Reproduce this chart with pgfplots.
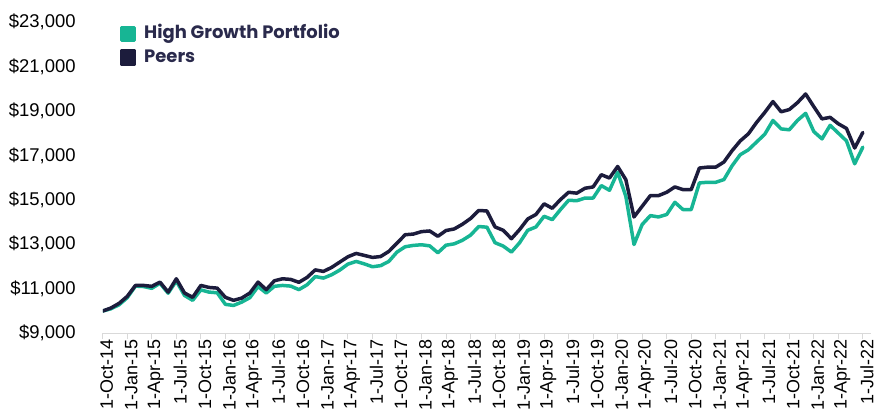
\documentclass[border=0pt]{standalone}
\usepackage{pgfplots}
\pgfplotsset{compat=1.18}
\usepackage{pgfplotstable}
\usepackage{fontspec}
\setmainfont{Liberation Sans}
\newfontfamily\legfont{Poppins}
\definecolor{hgp}{HTML}{17B594}
\definecolor{peers}{HTML}{1C1C3C}
\definecolor{legtext}{HTML}{2A2A4C}
\definecolor{axgray}{HTML}{D9D9D9}

\pgfplotstableread{
i hgp peers
0 10000 10000
1 10100 10135
2 10280 10345
3 10600 10660
4 11120 11150
5 11100 11150
6 11020 11110
7 11250 11300
8 10800 10850
9 11350 11450
10 10700 10810
11 10480 10615
12 10950 11150
13 10850 11060
14 10820 11030
15 10300 10615
16 10250 10480
17 10400 10580
18 10600 10810
19 11100 11300
20 10810 10960
21 11110 11360
22 11150 11450
23 11120 11420
24 10960 11290
25 11180 11510
26 11550 11850
27 11480 11780
28 11630 11960
29 11840 12200
30 12110 12440
31 12230 12590
32 12120 12500
33 11990 12410
34 12040 12450
35 12230 12680
36 12650 13050
37 12890 13430
38 12950 13460
39 12980 13570
40 12930 13600
41 12620 13360
42 12960 13620
43 13020 13690
44 13180 13900
45 13410 14160
46 13800 14520
47 13770 14500
48 13070 13780
49 12920 13630
50 12650 13250
51 13070 13660
52 13630 14140
53 13780 14340
54 14260 14820
55 14110 14620
56 14560 15010
57 14980 15340
58 14960 15300
59 15080 15520
60 15080 15580
61 15640 16130
62 15430 15980
63 16240 16500
64 15160 15910
65 12990 14230
66 13890 14710
67 14290 15190
68 14230 15190
69 14340 15340
70 14890 15580
71 14560 15460
72 14560 15460
73 15760 16430
74 15790 16470
75 15790 16470
76 15910 16700
77 16530 17210
78 17030 17650
79 17250 17970
80 17600 18480
81 17950 18930
82 18570 19420
83 18190 18960
84 18150 19060
85 18570 19370
86 18890 19760
87 18070 19190
88 17740 18640
89 18350 18710
90 18000 18420
91 17650 18210
92 16620 17330
93 17370 18030
}\datatable

\begin{document}
\begin{tikzpicture}
\begin{axis}[
  name=main,
  scale only axis,
  width=770pt, height=312pt,
  at={(0,0)}, anchor=south west,
  xmin=0, xmax=94,
  ymin=9000, ymax=23000,
  scaled y ticks=false,
  scaled x ticks=false,
  separate axis lines,
  axis x line*=bottom,
  axis y line*=left,
  x axis line style={draw=axgray, line width=1.2pt, -},
  y axis line style={draw=none},
  xtick={0,3,...,93},
  xticklabels={1-Oct-14,1-Jan-15,1-Apr-15,1-Jul-15,1-Oct-15,1-Jan-16,1-Apr-16,1-Jul-16,1-Oct-16,1-Jan-17,1-Apr-17,1-Jul-17,1-Oct-17,1-Jan-18,1-Apr-18,1-Jul-18,1-Oct-18,1-Jan-19,1-Apr-19,1-Jul-19,1-Oct-19,1-Jan-20,1-Apr-20,1-Jul-20,1-Oct-20,1-Jan-21,1-Apr-21,1-Jul-21,1-Oct-21,1-Jan-22,1-Apr-22,1-Jul-22},
  xticklabel style={rotate=90, anchor=east, inner sep=0pt, yshift=-4pt, font=\fontsize{18}{20}\selectfont, text=black},
  ytick={9000,11000,...,23000},
  yticklabels={{\$9,000},{\$11,000},{\$13,000},{\$15,000},{\$17,000},{\$19,000},{\$21,000},{\$23,000}},
  yticklabel style={anchor=east, inner sep=0pt, xshift=-21pt, font=\fontsize{18.5}{20}\selectfont, text=black},
  tick align=outside,
  major tick length=6pt,
  xtick style={draw=axgray, line width=1pt},
  ytick style={draw=none},
  legend cell align=left,
  legend image code/.code={\fill (0pt,-6.5pt) rectangle (13pt,6.5pt);},
  legend style={at={(axis description cs:0,1)}, anchor=north west, xshift=17pt, yshift=-4pt,
    draw=none, fill=none, inner sep=0pt, outer sep=0pt, row sep=7pt, column sep=8pt,
    nodes={inner sep=0pt, text height=12pt, text depth=3pt},
    font=\legfont\bfseries\fontsize{18}{20}\selectfont, text=legtext},
]
\addplot[color=hgp, line width=3.5pt, line join=round, line cap=round] table[x=i, y=hgp] {\datatable};
\addlegendentry{High Growth Portfolio}
\addplot[color=peers, line width=3.5pt, line join=round, line cap=round] table[x=i, y=peers] {\datatable};
\addlegendentry{Peers}
\end{axis}
\pgfresetboundingbox
\path[use as bounding box] ([xshift=-103pt,yshift=-80pt]main.south west) rectangle ([xshift=5pt,yshift=22pt]main.north east);
\end{tikzpicture}
\end{document}
